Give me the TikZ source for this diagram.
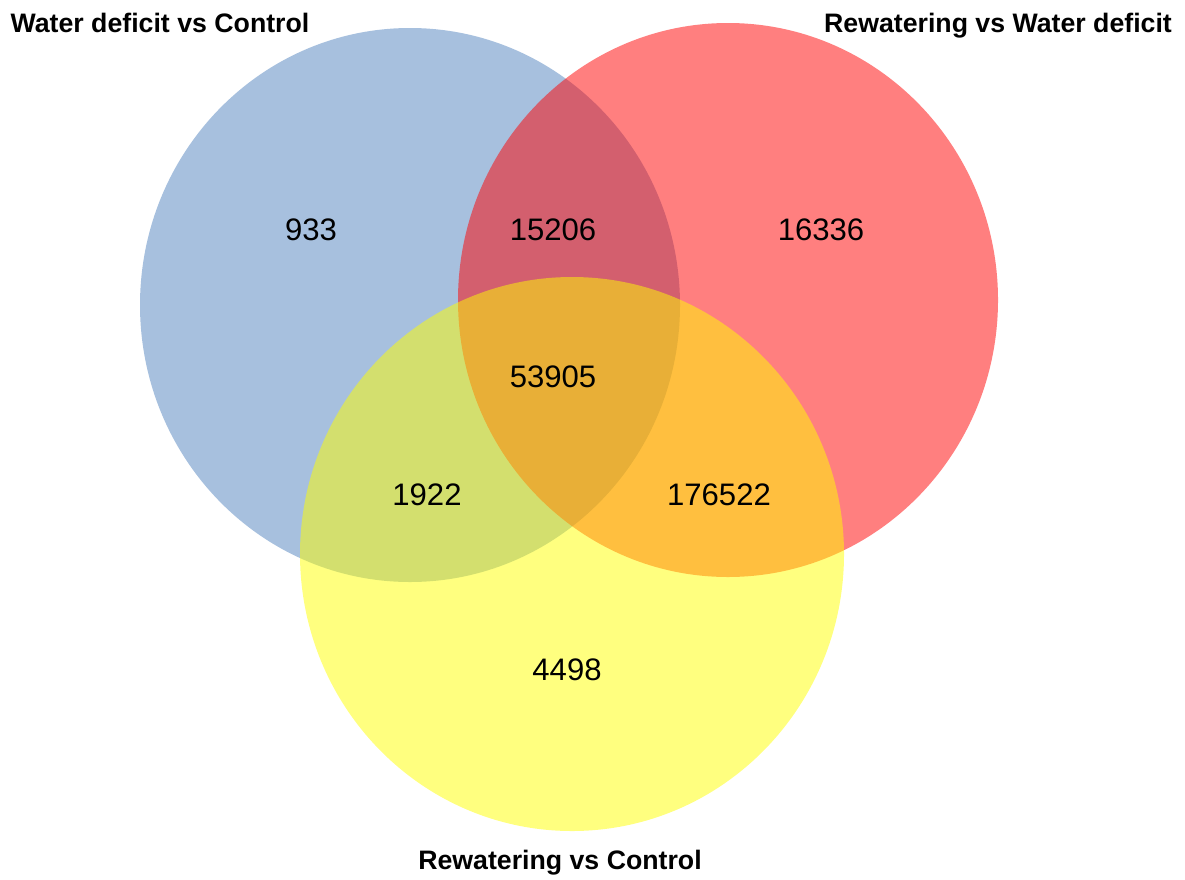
\documentclass[tikz,border=0pt]{standalone}
\usepackage{fontspec}
\setmainfont{Liberation Sans}
\usepackage{tikz}
\definecolor{setblue}{RGB}{79,129,189}
\definecolor{setred}{RGB}{255,0,0}
\definecolor{setyellow}{RGB}{255,255,0}
\tikzset{
  setfill/.style={fill=#1, fill opacity=0.5, draw=none},
  count/.style={anchor=base, inner sep=0pt, font=\fontsize{17.7}{20}\selectfont},
  setlabel/.style={anchor=base, inner sep=0pt, font=\fontsize{15.2}{18}\selectfont\bfseries}
}

\begin{document}
\begin{tikzpicture}[x=0.02cm, y=-0.02cm]
\useasboundingbox (0,0) rectangle (1185,879);

% Draw sets
\fill[setfill=setblue] (410,305) ellipse [x radius=270, y radius=277];
\fill[setfill=setred] (728,300) ellipse [x radius=270, y radius=277];
\fill[setfill=setyellow] (572,554) ellipse [x radius=272, y radius=277];

% Set names
\node[setlabel] (wdc) at (160,32) {Water deficit vs Control};
\node[setlabel] (rwd) at (998,32) {Rewatering vs Water deficit};
\node[setlabel] (rc) at (560,869) {Rewatering vs Control};

% Counts
\node[count] (onlywdc) at (311,240) {933};
\node[count] (wdcrwd) at (553,240) {15206};
\node[count] (onlyrwd) at (821,240) {16336};
\node[count] (allthree) at (553,387) {53905};
\node[count] (wdcrc) at (427,505) {1922};
\node[count] (rwdrc) at (719,505) {176522};
\node[count] (onlyrc) at (567,680) {4498};
\end{tikzpicture}
\end{document}
